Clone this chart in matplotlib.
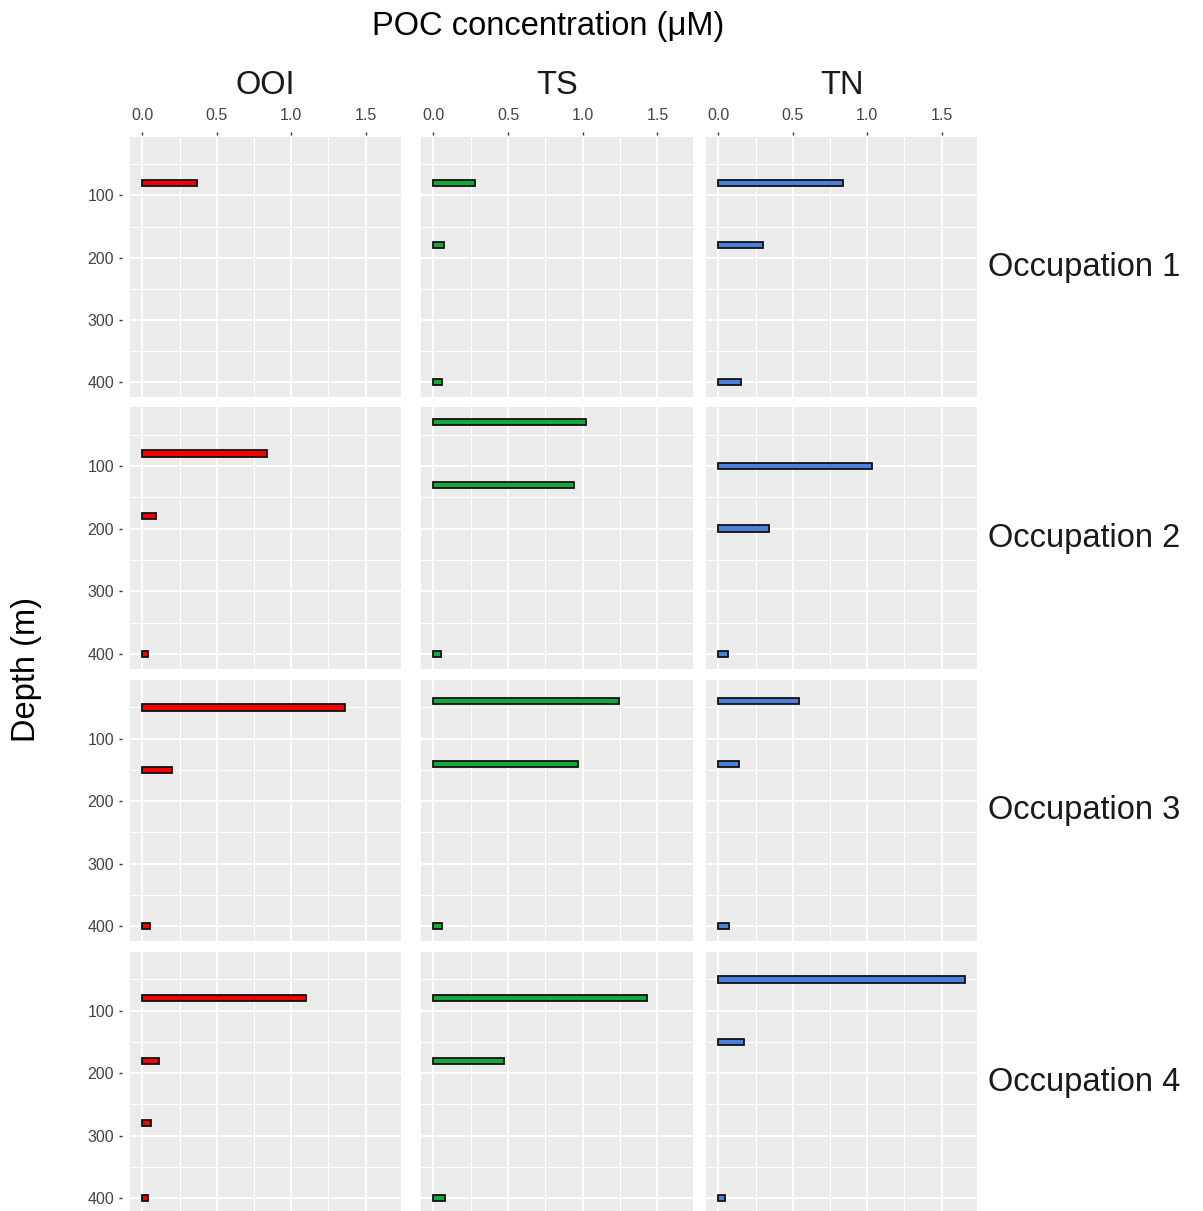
import numpy as np
import matplotlib.pyplot as plt

plt.rcParams['font.family'] = ['Liberation Sans', 'DejaVu Sans']

sites = ['OOI', 'TS', 'TN']
occupations = ['Occupation 1', 'Occupation 2', 'Occupation 3', 'Occupation 4']
site_colors = ['#F50000', '#12A83B', '#4A80DC']

# depth (m) and POC (uM) for each occupation, per site
ooi_depth = [[80], [80, 180, 400], [50, 150, 400], [80, 180, 280, 400]]
ooi_poc = [[0.37], [0.84, 0.09, 0.04], [1.36, 0.20, 0.05], [1.10, 0.11, 0.055, 0.035]]
ts_depth = [[80, 180, 400], [30, 130, 400], [40, 140, 400], [80, 180, 400]]
ts_poc = [[0.28, 0.07, 0.06], [1.02, 0.94, 0.05], [1.24, 0.97, 0.06], [1.43, 0.47, 0.075]]
tn_depth = [[80, 180, 400], [100, 200, 400], [40, 140, 400], [50, 150, 400]]
tn_poc = [[0.84, 0.30, 0.15], [1.03, 0.34, 0.065], [0.54, 0.14, 0.07], [1.655, 0.17, 0.045]]

x_ticks = [0.0, 0.5, 1.0, 1.5]
y_ticks = [100, 200, 300, 400]

depths = [ooi_depth, ts_depth, tn_depth]
pocs = [ooi_poc, ts_poc, tn_poc]

W, H = 1203, 1211
fig = plt.figure(figsize=(W / 100, H / 100), dpi=100)

bar_h = 10
# shared scales, ggplot-style 5% expansion
xmax = max(max(v) for p in pocs for v in p)
xlim = (-0.05 * xmax, 1.05 * xmax)
all_d = [d for dd in depths for r in dd for d in r]
lo, hi = min(all_d) - bar_h / 2, max(all_d) + bar_h / 2
pad = 0.05 * (hi - lo)
ylim = (hi + pad, lo - pad)

col_x = [(130, 401), (421, 693), (706, 977)]
row_y = [(137, 397), (407, 669), (680, 941), (952, 1213)]
big = 23.5

for j in range(3):
    for i in range(4):
        x0, x1 = col_x[j]
        y0, y1 = row_y[i]
        ax = fig.add_axes([x0 / W, 1 - y1 / H, (x1 - x0) / W, (y1 - y0) / H])
        ax.set_facecolor('#EBEBEB')
        for s in ax.spines.values():
            s.set_visible(False)
        ax.spines['left'].set_position(('outward', 6))
        ax.spines['top'].set_position(('outward', 1.5))
        ax.set_xlim(xlim)
        ax.set_ylim(ylim)
        ax.set_xticks(x_ticks)
        ax.set_xticks([0.25, 0.75, 1.25], minor=True)
        ax.set_yticks(y_ticks)
        ax.set_yticks([50, 150, 250, 350], minor=True)
        ax.grid(which='major', color='white', linewidth=1.3)
        ax.grid(which='minor', color='white', linewidth=0.7)
        ax.set_axisbelow(True)
        ax.barh(depths[j][i], pocs[j][i], height=bar_h, color=site_colors[j],
                edgecolor='#111111', linewidth=1.3, zorder=3)
        ax.xaxis.tick_top()
        ax.tick_params(which='minor', length=0)
        ax.tick_params(which='major', length=2.5, width=1.0, color='#333333',
                       labelcolor='#444444', labelsize=11.5)
        ax.tick_params(axis='x', pad=6)
        ax.tick_params(axis='y', pad=3)
        if i != 0:
            ax.tick_params(axis='x', which='major', labeltop=False, length=0)
        else:
            ax.set_xticklabels(['%.1f' % t for t in x_ticks])
        if j != 0:
            ax.tick_params(axis='y', which='major', labelleft=False, length=0)
        if i == 0:
            ax.text(0.5, 1 + 52 / (y1 - y0), sites[j], transform=ax.transAxes,
                    ha='center', va='center', fontsize=big, color='#1A1A1A')
        if j == 2:
            ax.text(1 + 11 / (x1 - x0), 0.5, occupations[i], transform=ax.transAxes,
                    ha='left', va='center', fontsize=big, color='#1A1A1A')

fig.text(548 / W, 1 - 27 / H, 'POC concentration (\u03bcM)', ha='center', va='center',
         fontsize=big, color='black')
fig.text(26 / W, 1 - 670 / H, 'Depth (m)', ha='center', va='center', rotation=90,
         fontsize=big, color='black')

fig.savefig('out.png', dpi=100)
